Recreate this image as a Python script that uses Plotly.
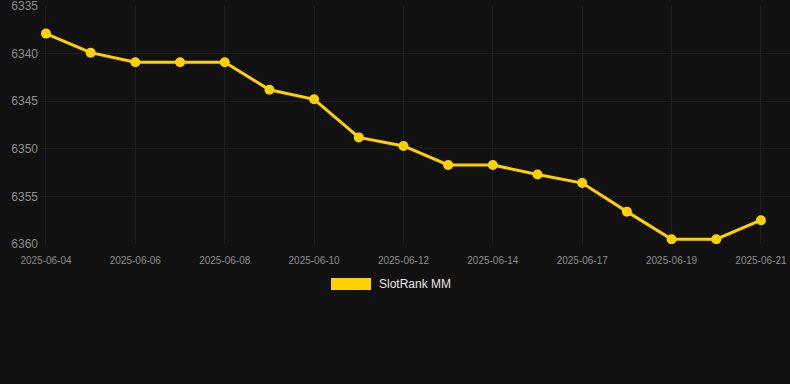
import plotly.graph_objects as go

dates = ["2025-06-04", "2025-06-05", "2025-06-06", "2025-06-07", "2025-06-08",
         "2025-06-09", "2025-06-10", "2025-06-11", "2025-06-12", "2025-06-13",
         "2025-06-14", "2025-06-15", "2025-06-17", "2025-06-18", "2025-06-19",
         "2025-06-20", "2025-06-21"]
ranks = [6337.9, 6339.9, 6340.9, 6340.9, 6340.9, 6343.8, 6344.8, 6348.8, 6349.7,
         6351.7, 6351.7, 6352.7, 6353.6, 6356.6, 6359.5, 6359.5, 6357.5]
series_name = "SlotRank MM"
y_ticks = [6335, 6340, 6345, 6350, 6355, 6360]
x_ticks = dates[::2]

gold = "#FFD100"
bg = "#111111"
grid = "#1f1f1f"

fig = go.Figure()
fig.add_trace(go.Scatter(
    x=dates, y=ranks, mode="lines+markers", name=series_name,
    line=dict(color=gold, width=3),
    marker=dict(color=gold, size=10),
    showlegend=False,
))

fig.update_layout(
    width=790, height=384,
    paper_bgcolor=bg, plot_bgcolor=bg,
    margin=dict(l=40, r=0, t=6, b=140),
    font=dict(family="Liberation Sans, Arial, sans-serif"),
    xaxis=dict(
        type="category",
        range=[-0.134, 16.65],
        tickvals=x_ticks, ticktext=x_ticks,
        tickfont=dict(size=10, color="#8c8c8c"),
        showgrid=True, gridcolor=grid, gridwidth=1,
        zeroline=False, showline=False, ticks="",
        ticklabelstandoff=9,
        ticklabeloverflow="allow",
    ),
    yaxis=dict(
        range=[6360, 6335],
        tickvals=y_ticks,
        tickfont=dict(size=12, color="#8c8c8c"),
        showgrid=True, gridcolor=grid, gridwidth=1,
        zeroline=False, showline=False, ticks="",
        ticklabelstandoff=1,
        ticklabeloverflow="allow",
    ),
    shapes=[dict(
        type="rect", xref="paper", yref="paper",
        x0=(331 - 40) / 750, x1=(371 - 40) / 750,
        y0=(384 - 140 - 290) / 238, y1=(384 - 140 - 278) / 238,
        fillcolor=gold, line=dict(width=0),
    )],
    annotations=[dict(
        text=series_name, xref="paper", yref="paper",
        x=(377 - 40) / 750, y=(384 - 140 - 284) / 238,
        xanchor="left", yanchor="middle", showarrow=False,
        font=dict(size=12, color="#e6e6e6"),
    )],
)

fig.write_html(
    "out.html",
    config={"displayModeBar": False},
    post_script="document.body.style.margin='0';document.body.style.background='#111111';",
)
